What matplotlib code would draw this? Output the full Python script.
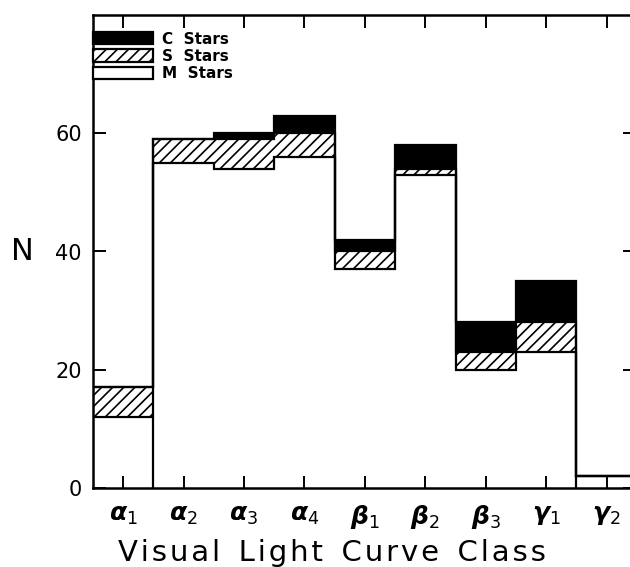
import numpy as np
import matplotlib
matplotlib.use('Agg')
import matplotlib.pyplot as plt
from matplotlib.patches import Patch

plt.rcParams['hatch.linewidth'] = 1.2
plt.rcParams['mathtext.fontset'] = 'dejavusans'

# counts per visual light curve class
classes = [r'$\boldsymbol{\alpha}_1$', r'$\boldsymbol{\alpha}_2$', r'$\boldsymbol{\alpha}_3$',
           r'$\boldsymbol{\alpha}_4$', r'$\boldsymbol{\beta}_1$', r'$\boldsymbol{\beta}_2$',
           r'$\boldsymbol{\beta}_3$', r'$\boldsymbol{\gamma}_1$', r'$\boldsymbol{\gamma}_2$']
m_stars = [12, 55, 54, 56, 37, 53, 20, 23, 2]
s_stars = [5, 4, 5, 4, 3, 1, 3, 5, 0]
c_stars = [0, 0, 1, 3, 2, 4, 5, 7, 0]

x = np.arange(len(classes))
edges = np.arange(len(classes) + 1) - 0.5
m = np.array(m_stars)
s = np.array(s_stars)
c = np.array(c_stars)

fig = plt.figure(figsize=(6.3, 5.67), dpi=100)
ax = fig.add_axes([93 / 630, 79 / 567, 542 / 630, 473 / 567])

# filled blocks, no outlines (outlines drawn as step lines like the original)
ax.bar(x, m, width=1.0, color='white', lw=0)
ax.bar(x, s, bottom=m, width=1.0, color='white', edgecolor='black', lw=0, hatch='///')
ax.bar(x, c, bottom=m + s, width=1.0, color='black', lw=0)

lw = 1.6
for level in (m, m + s, m + s + c):
    ax.stairs(level, edges, baseline=None, color='black', lw=lw)
# the original closes the a1 and g1 bins down to zero
ax.vlines(edges[[1, 8]], 0, m[[0, 8]], color='black', lw=lw)

ax.set_xlim(-0.5, 8.47)
ax.set_ylim(0, 80)
ax.set_yticks([0, 20, 40, 60])
ax.set_xticks(x)
ax.set_xticklabels(classes, fontsize=18)
ax.tick_params(axis='both', direction='in', length=9, width=1.4, top=True, right=True)
ax.tick_params(axis='y', labelsize=15, pad=8)
ax.tick_params(axis='x', pad=11)
for sp in ax.spines.values():
    sp.set_linewidth(1.8)

ax.set_ylabel('N', fontsize=22, rotation=0, labelpad=24, va='center')
hs = '\u200a'
xlab = '  '.join(hs.join(w) for w in ['Visual', 'Light', 'Curve', 'Class'])
ax.set_xlabel(xlab, fontsize=21)
ax.xaxis.set_label_coords(0.44, -0.108)

handles = [Patch(facecolor='black', edgecolor='black', lw=lw, label='C  Stars'),
           Patch(facecolor='white', edgecolor='black', lw=lw, hatch='///', label='S  Stars'),
           Patch(facecolor='white', edgecolor='black', lw=lw, label='M  Stars')]
ax.legend(handles=handles, loc='upper left', bbox_to_anchor=(0.0, 0.965),
          frameon=False, handlelength=3.9, handleheight=0.85,
          labelspacing=0.15, borderpad=0, borderaxespad=0, handletextpad=0.6,
          prop={'weight': 'bold', 'size': 11})

fig.savefig('out.png', dpi=100)
